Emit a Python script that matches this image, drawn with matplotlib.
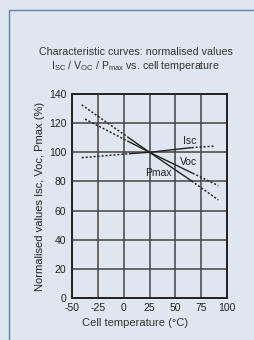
import matplotlib
matplotlib.use("Agg")
import matplotlib.pyplot as plt
from matplotlib.patches import Rectangle
from matplotlib import font_manager

names = {f.name for f in font_manager.fontManager.ttflist}
narrow = "Liberation Sans Narrow" if "Liberation Sans Narrow" in names else "Liberation Sans"

plt.rcParams["font.family"] = ["Liberation Sans", "DejaVu Sans"]
plt.rcParams["axes.unicode_minus"] = False
plt.rcParams["mathtext.fontset"] = "custom"
plt.rcParams["mathtext.rm"] = narrow
plt.rcParams["mathtext.it"] = narrow

# data: (left dotted start, solid start, 25, solid end, right dotted end)
isc_temp = [-40.6, 5, 25, 65.8, 88.4]
isc_val = [96.3, 99.0, 100, 103.2, 104.3]
voc_temp = [-37.4, 5, 25, 66.8, 91.6]
voc_val = [122.8, 107.3, 100, 85.6, 77.1]
pmax_temp = [-40.6, 5, 25, 65.8, 91.6]
pmax_val = [132.5, 109.9, 100, 80.3, 67.3]

x_ticks = [-50, -25, 0, 25, 50, 75, 100]
y_ticks = [0, 20, 40, 60, 80, 100, 120, 140]

bg = "#dfe6ef"
ink = "#222222"
fig = plt.figure(figsize=(2.54, 3.40), dpi=100)
fig.patch.set_facecolor(bg)
fig.patches.append(Rectangle((9 / 254, -0.1), 1.2, 1 - 9.5 / 340 + 0.1,
                             transform=fig.transFigure, fill=False,
                             edgecolor="#5f82b0", lw=1.0))

ax = fig.add_axes([72 / 254, 1 - 298 / 340, 155 / 254, 204 / 340])
ax.set_facecolor(bg)
ax.set_xlim(-50, 100)
ax.set_ylim(0, 140)
ax.set_xticks(x_ticks)
ax.set_yticks(y_ticks)
ax.grid(True, color="#444444", lw=1.1)
ax.tick_params(axis="x", length=0, labelsize=7.5, pad=3.5, colors=ink)
ax.tick_params(axis="y", length=0, labelsize=7.5, pad=4, colors=ink)
for s in ax.spines.values():
    s.set_linewidth(1.4)
    s.set_color(ink)

dot = (0, (1.3, 1.3))
for t, v in [(isc_temp, isc_val), (voc_temp, voc_val), (pmax_temp, pmax_val)]:
    ax.plot(t[:2], v[:2], color=ink, lw=1.1, linestyle=dot)
    ax.plot(t[1:4], v[1:4], color=ink, lw=1.0, solid_capstyle="butt")
    ax.plot(t[3:], v[3:], color=ink, lw=1.1, linestyle=dot)

ax.text(64.2, 108, "Isc", fontsize=7.5, ha="center", va="center", color=ink)
ax.text(62.6, 93.5, "Voc", fontsize=7.5, ha="center", va="center", color=ink)
ax.text(33.5, 85.6, "Pmax", fontsize=7.5, ha="center", va="center", color=ink)

ax.set_ylabel("Normalised values Isc, Voc, Pmax (%)", fontsize=8, color=ink, labelpad=3)

fig.text(136 / 254, 1 - 52 / 340, "Characteristic curves: normalised values",
         family=narrow, fontsize=7.7, ha="center", va="center", color="#333333")
fig.text(135 / 254, 1 - 66 / 340,
         r"I$_{\mathrm{SC}}$ / V$_{\mathrm{OC}}$ / P$_{\mathrm{max}}$ vs. cell temperature",
         family=narrow, fontsize=7.7, ha="center", va="center", color="#333333")
fig.text(135 / 254, 1 - 323 / 340, "Cell temperature (°C)",
         family=narrow, fontsize=8, ha="center", va="center", color="#333333")

fig.savefig("out.png", dpi=100, facecolor=bg)
